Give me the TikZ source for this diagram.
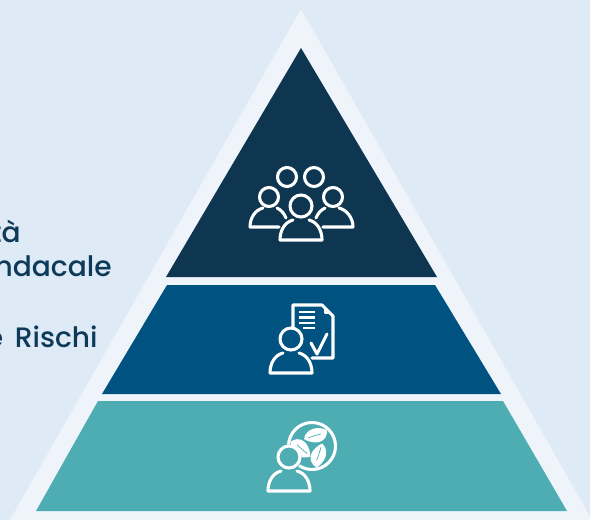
\documentclass[tikz,border=0pt]{standalone}
\usepackage{fontspec}
\setmainfont{Poppins Medium}
\definecolor{pagebg}{HTML}{DEEAF6}
\definecolor{rim}{HTML}{EFF4FA}
\definecolor{topdark}{HTML}{0F3650}
\definecolor{midblue}{HTML}{005380}
\definecolor{teal}{HTML}{4EACB3}
\definecolor{inktext}{HTML}{0E3A5A}
\tikzset{
  caption/.style={anchor=base east,inner sep=0pt,text=inktext,font=\fontsize{16}{18}\selectfont},
  glyph/.style={draw=white,line width=1.75pt,line join=round,line cap=round},
  bar/.style={draw=white,line width=1.2pt},
  person/.pic={
    \draw [glyph] (0,0) circle [radius=11];
    \draw [glyph] (-8,14) .. controls (-16,16) and (-21,24) .. (-21,34) -- (21,34) .. controls (21,24) and (16,16) .. (8,14);
  },
  leaf/.pic={
    \fill [white] (-8,-7) .. controls (-6,-18) and (6,-20) .. (15,-16) .. controls (16,-6) and (6,1) .. (-8,-7);
    \draw [teal,line width=0.4pt] (-4,-8) .. controls (1,-10) and (5,-11) .. (9,-12);
  }
}
\begin{document}
\begin{tikzpicture}[x=0.02cm,y=-0.02cm]
        \useasboundingbox (0,0) rectangle (590,520);
        \fill [pagebg] (0,0) rectangle (590,520);

        \fill [rim] (301,9) -- (592,520) -- (10,520) -- cycle;
        \fill [topdark] (301,48) -- (437,277) -- (166,277) -- cycle;
        \fill [midblue] (167,285) -- (435,285) -- (501,394) -- (102,394) -- cycle;
        \fill [teal] (98,401) -- (503,401) -- (567,511) -- (36,511) -- cycle;

        \node [caption] (lineone) at (21,242) {tà};
        \node [caption] (linetwo) at (112,276) {ndacale};
        \node [caption] (linethree) at (98,347) {e\hspace{0.42em}Rischi};

        % group
        \draw [glyph] (287,177) circle [radius=9.5];
        \draw [glyph] (314,177) circle [radius=9.5];
        \draw [glyph] (269,197) circle [radius=9.5];
        \draw [glyph] (333,197) circle [radius=9.5];
        \draw [glyph] (263,208) .. controls (255,210) and (250,218) .. (250,227) -- (279,227);
        \draw [glyph] (277,208) .. controls (281,210) and (284,213) .. (286,218);
        \draw [glyph] (339,208) .. controls (347,210) and (353,218) .. (353,227) -- (323,227);
        \draw [glyph] (325,208) .. controls (321,210) and (318,213) .. (316,218);
        \pic at (301,206) {person};

        % document
        \draw [glyph] (293,328) -- (293,305) -- (322,305) -- (333,316) -- (333,358) -- (312,358);
        \draw [glyph,line width=1pt] (325,308) -- (325,313) -- (330,313);
        \draw [bar] (299,312) -- (315,312);
        \draw [bar] (299,317.5) -- (315,317.5);
        \draw [bar] (299,323) -- (315,323);
        \draw [bar] (303,328) -- (315,328);
        \draw [glyph] (311,343) -- (317,354) -- (327,334);
        \pic at (291,339) {person};

        % recycling leaves
        \draw [glyph] (312,446) circle [radius=23.5];
        \pic at (312,446) {leaf};
        \pic [rotate=122] at (312,446) {leaf};
        \pic [rotate=-125] at (312,446) {leaf};
        \fill [teal] (288,458) circle [radius=13.5];
        \fill [teal] (268,471) rectangle (312,492);
        \pic at (289,457) {person};
\end{tikzpicture}
\end{document}
